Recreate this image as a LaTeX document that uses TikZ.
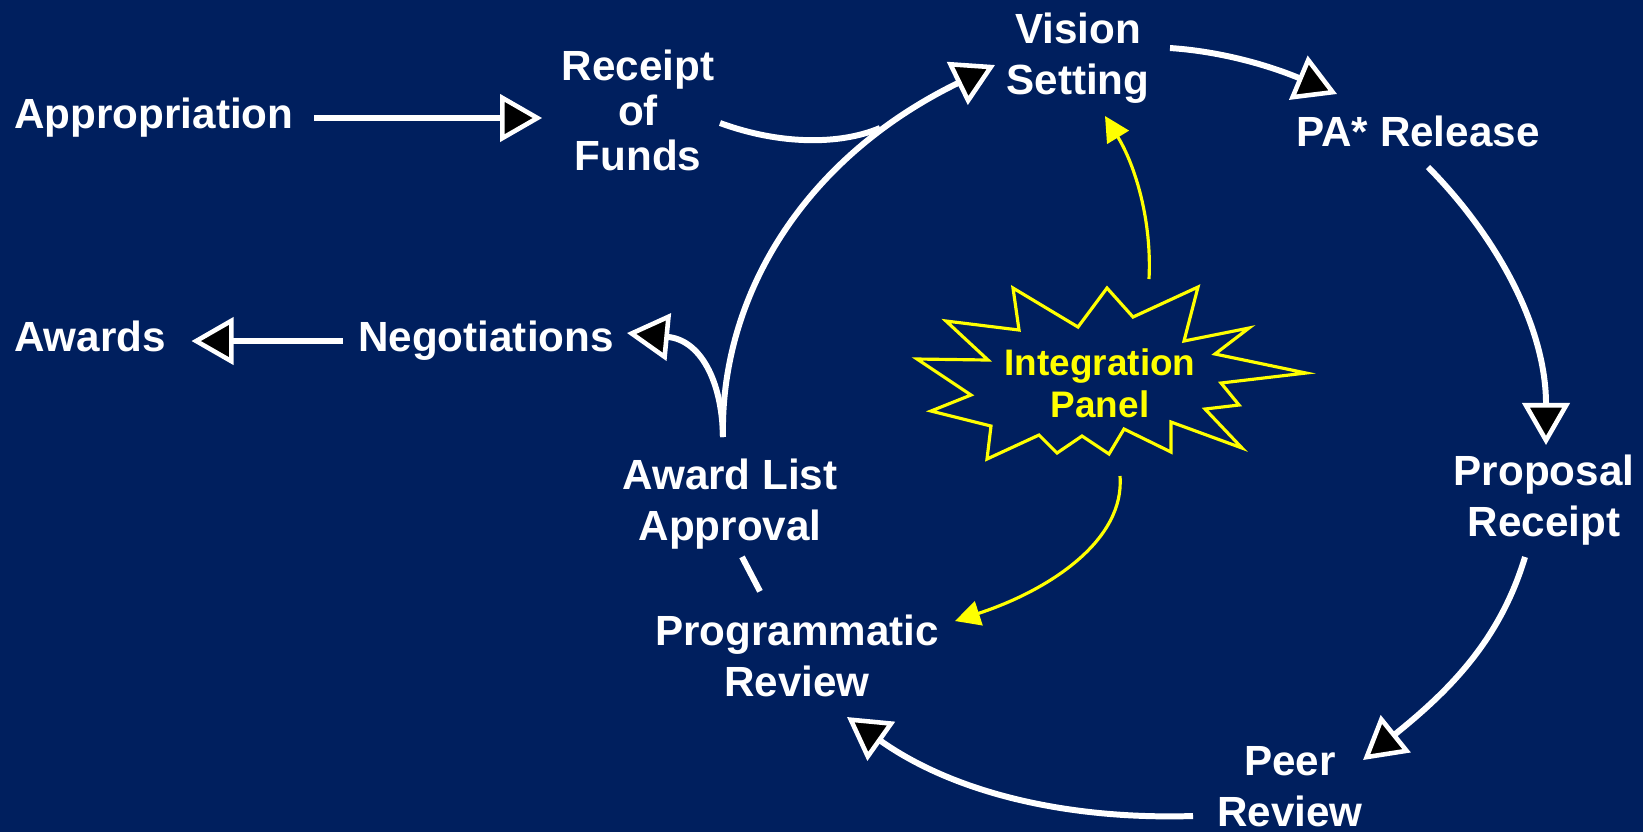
\documentclass[tikz,border=0pt]{standalone}
\usepackage{fontspec}
\setmainfont{Liberation Sans}
\usetikzlibrary{arrows.meta}
\definecolor{navy}{RGB}{0,31,94}
\definecolor{panelyellow}{RGB}{255,255,0}
\tikzset{
  stage/.style={text=white, font=\bfseries\fontsize{12}{14.5}\selectfont, align=center, inner sep=0pt},
  flow/.style={draw=white, line width=1.7pt, -{Triangle[length=0.42cm, width=0.47cm, fill=black, line width=1.3pt]}},
  hint/.style={draw=panelyellow, line width=0.9pt, -{Triangle[length=0.25cm, width=0.25cm]}}
}
\begin{document}
\begin{tikzpicture}[x=0.01cm, y=-0.01cm]
\fill[navy] (0,0) rectangle (1643,832);
\useasboundingbox (0,0) rectangle (1643,832);
% stages
\node[stage] (approp) at (154,118) {Appropriation};
\node[stage, font=\bfseries\fontsize{12}{12.8}\selectfont] (receipt) at (638,110) {Receipt\\of\\Funds};
\node[stage] (vision) at (1078,58) {Vision\\Setting};
\node[stage] (pa) at (1418,131) {PA* Release};
\node[stage] (proposal) at (1544,500) {Proposal\\Receipt};
\node[stage] (peer) at (1290,787) {Peer\\Review};
\node[stage] (prog) at (797,656) {Programmatic\\Review};
\node[stage] (award) at (730,504) {Award List\\Approval};
\node[stage] (nego) at (486,341) {Negotiations};
\node[stage] (awards) at (90,336) {Awards};
% integration panel
\draw[panelyellow, line width=0.9pt] (1013,288) -- (1078,327) -- (1107,288) -- (1133,317) -- (1198,287)
  -- (1184,341) -- (1249,328) -- (1215,354) -- (1306,373) -- (1221,383) -- (1239,405) -- (1205,409)
  -- (1242,448) -- (1171,422) -- (1171,452) -- (1124,429) -- (1109,454) -- (1082,436) -- (1057,453)
  -- (1039,435) -- (987,459) -- (991,426) -- (931,411) -- (971,395) -- (917,359) -- (988,360)
  -- (946,321) -- (1019,330) -- cycle;
\node[stage, text=panelyellow, font=\bfseries\fontsize{10.5}{12}\selectfont] (panel) at (1100,383) {Integration\\Panel};
% connector ends
\coordinate (vsout) at (1170,48);
\coordinate (patip) at (1337,94);
\coordinate (paout) at (1428,167);
\coordinate (prtip) at (1546,445);
\coordinate (prout) at (1525,557);
\coordinate (petip) at (1363,760);
\coordinate (peout) at (1193,816);
\coordinate (pgtip) at (847,717);
\coordinate (alout) at (723,437);
\coordinate (vstip) at (995,65);
\coordinate (ngtip) at (627,333);
\coordinate (rfout) at (720,123);
\coordinate (rfjoin) at (880,128);
\coordinate (pnup) at (1149,279);
\coordinate (pnuptip) at (1105,116);
\coordinate (pndown) at (1120,476);
\coordinate (pndowntip) at (955,621);
% cycle
\draw[flow] (vsout) .. controls (1230,52) and (1280,70) .. (patip);
\draw[flow] (paout) .. controls (1500,240) and (1546,330) .. (prtip);
\draw[flow] (prout) .. controls (1500,640) and (1450,690) .. (petip);
\draw[flow] (peout) .. controls (1060,820) and (950,790) .. (pgtip);
\draw[draw=white, line width=1.7pt] ([xshift=0.12cm, yshift=-0.07cm]award.south) -- ([xshift=-0.37cm, yshift=0.23cm]prog.north);
\draw[flow] (alout) .. controls (720,300) and (800,160) .. (vstip);
\draw[flow] (alout) .. controls (722,380) and (700,340) .. (ngtip);
\draw[draw=white, line width=1.7pt] (rfout) .. controls (780,145) and (840,145) .. (rfjoin);
% entry and exit
\draw[flow, shorten <=0.2cm, shorten >=0.19cm] (approp.east) -- (approp.east -| receipt.west);
\draw[flow, shorten <=0.15cm, shorten >=0.25cm] (nego.west) -- (nego.west -| awards.east);
% panel arrows
\draw[hint] (pnup) .. controls (1152,220) and (1135,165) .. (pnuptip);
\draw[hint] (pndown) .. controls (1125,540) and (1050,590) .. (pndowntip);
\end{tikzpicture}
\end{document}
